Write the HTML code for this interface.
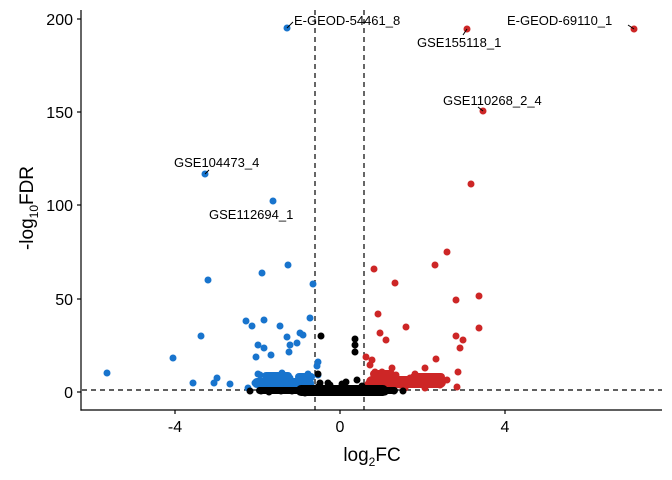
<!DOCTYPE html>
<html><head><meta charset="utf-8"><style>body{margin:0;background:#fff}svg{display:block}</style></head><body>
<svg width="672" height="480" xmlns="http://www.w3.org/2000/svg" font-family="Liberation Sans, sans-serif">
<rect width="672" height="480" fill="#fff"/>
<g stroke="#000" stroke-width="1.2" stroke-dasharray="5,4" fill="none">
<line x1="315" y1="10" x2="315" y2="410"/><line x1="364" y1="10" x2="364" y2="410"/>
<line x1="82" y1="390" x2="662" y2="390"/>
</g>
<g fill="#1874cd">
<rect x="252" y="378" width="62" height="10" rx="5"/>
<rect x="262" y="372" width="30" height="8" rx="4"/>
<rect x="295" y="373" width="20" height="8" rx="4"/>
<circle cx="287" cy="28" r="3.5"/><circle cx="205" cy="174" r="3.5"/><circle cx="273" cy="201" r="3.5"/><circle cx="288" cy="265" r="3.5"/><circle cx="262" cy="273" r="3.5"/><circle cx="313" cy="284" r="3.5"/><circle cx="246" cy="321" r="3.5"/><circle cx="252" cy="326" r="3.5"/><circle cx="280" cy="326" r="3.5"/><circle cx="264" cy="320" r="3.5"/><circle cx="300" cy="333" r="3.5"/><circle cx="303" cy="335" r="3.5"/><circle cx="287" cy="337" r="3.5"/><circle cx="297" cy="343" r="3.5"/><circle cx="290" cy="345" r="3.5"/><circle cx="258" cy="345" r="3.5"/><circle cx="264" cy="348" r="3.5"/><circle cx="271" cy="355" r="3.5"/><circle cx="256" cy="357" r="3.5"/><circle cx="289" cy="352" r="3.5"/><circle cx="310" cy="318" r="3.5"/><circle cx="318" cy="362" r="3.5"/><circle cx="317" cy="366" r="3.5"/><circle cx="318" cy="375" r="3.5"/><circle cx="260" cy="375" r="3.5"/><circle cx="263" cy="385" r="3.5"/><circle cx="275" cy="378" r="3.5"/><circle cx="290" cy="378" r="3.5"/><circle cx="300" cy="380" r="3.5"/><circle cx="280" cy="385" r="3.5"/><circle cx="248" cy="388" r="3.5"/><circle cx="255" cy="383" r="3.5"/><circle cx="268" cy="382" r="3.5"/><circle cx="310" cy="382" r="3.5"/><circle cx="305" cy="385" r="3.5"/><circle cx="230" cy="384" r="3.5"/><circle cx="312" cy="387" r="3.5"/><circle cx="107" cy="373" r="3.5"/><circle cx="173" cy="358" r="3.5"/><circle cx="201" cy="336" r="3.5"/><circle cx="208" cy="280" r="3.5"/><circle cx="217" cy="378" r="3.5"/><circle cx="214" cy="383" r="3.5"/><circle cx="193" cy="383" r="3.5"/><circle cx="285" cy="382" r="3.5"/><circle cx="295" cy="385" r="3.5"/><circle cx="270" cy="388" r="3.5"/><circle cx="300" cy="389" r="3.5"/><circle cx="258" cy="374" r="3.5"/><circle cx="282" cy="373" r="3.5"/><circle cx="308" cy="374" r="3.5"/>
</g>
<g fill="#cd2626">
<rect x="366" y="376" width="80" height="12" rx="6"/>
<rect x="370" y="370" width="25" height="8" rx="4"/>
<rect x="410" y="373" width="35" height="8" rx="4"/>
<circle cx="467" cy="29" r="3.5"/><circle cx="634" cy="29" r="3.5"/><circle cx="483" cy="111" r="3.5"/><circle cx="471" cy="184" r="3.5"/><circle cx="447" cy="252" r="3.5"/><circle cx="435" cy="265" r="3.5"/><circle cx="374" cy="269" r="3.5"/><circle cx="395" cy="283" r="3.5"/><circle cx="456" cy="300" r="3.5"/><circle cx="479" cy="296" r="3.5"/><circle cx="378" cy="314" r="3.5"/><circle cx="380" cy="333" r="3.5"/><circle cx="386" cy="340" r="3.5"/><circle cx="406" cy="327" r="3.5"/><circle cx="456" cy="336" r="3.5"/><circle cx="479" cy="328" r="3.5"/><circle cx="463" cy="340" r="3.5"/><circle cx="460" cy="348" r="3.5"/><circle cx="366" cy="357" r="3.5"/><circle cx="436" cy="359" r="3.5"/><circle cx="458" cy="372" r="3.5"/><circle cx="447" cy="380" r="3.5"/><circle cx="425" cy="368" r="3.5"/><circle cx="457" cy="387" r="3.5"/><circle cx="370" cy="365" r="3.5"/><circle cx="375" cy="372" r="3.5"/><circle cx="382" cy="372" r="3.5"/><circle cx="390" cy="380" r="3.5"/><circle cx="410" cy="378" r="3.5"/><circle cx="400" cy="385" r="3.5"/><circle cx="420" cy="384" r="3.5"/><circle cx="430" cy="382" r="3.5"/><circle cx="368" cy="384" r="3.5"/><circle cx="378" cy="387" r="3.5"/><circle cx="440" cy="385" r="3.5"/><circle cx="415" cy="374" r="3.5"/><circle cx="396" cy="375" r="3.5"/><circle cx="405" cy="388" r="3.5"/><circle cx="388" cy="386" r="3.5"/><circle cx="425" cy="388" r="3.5"/><circle cx="392" cy="368" r="3.5"/><circle cx="372" cy="360" r="3.5"/>
</g>
<g fill="#000">
<rect x="296" y="385" width="92" height="11" rx="5"/>
<rect x="256" y="387" width="50" height="7" rx="3.5"/>
<rect x="380" y="387" width="18" height="7" rx="3.5"/>
<circle cx="321" cy="336" r="3.5"/><circle cx="355" cy="339" r="3.5"/><circle cx="355" cy="345" r="3.5"/><circle cx="355" cy="352" r="3.5"/><circle cx="318" cy="374" r="3.5"/><circle cx="357" cy="380" r="3.5"/><circle cx="261" cy="391" r="3.5"/><circle cx="269" cy="392" r="3.5"/><circle cx="281" cy="391" r="3.5"/><circle cx="292" cy="391" r="3.5"/><circle cx="300" cy="392" r="3.5"/><circle cx="310" cy="390" r="3.5"/><circle cx="318" cy="387" r="3.5"/><circle cx="322" cy="392" r="3.5"/><circle cx="328" cy="383" r="3.5"/><circle cx="334" cy="392" r="3.5"/><circle cx="340" cy="390" r="3.5"/><circle cx="346" cy="382" r="3.5"/><circle cx="350" cy="392" r="3.5"/><circle cx="356" cy="389" r="3.5"/><circle cx="362" cy="391" r="3.5"/><circle cx="368" cy="392" r="3.5"/><circle cx="376" cy="391" r="3.5"/><circle cx="385" cy="392" r="3.5"/><circle cx="394" cy="391" r="3.5"/><circle cx="320" cy="383" r="3.5"/><circle cx="330" cy="385" r="3.5"/><circle cx="342" cy="384" r="3.5"/><circle cx="305" cy="393" r="3.5"/><circle cx="362" cy="386" r="3.5"/><circle cx="403" cy="391" r="3.5"/><circle cx="250" cy="391" r="3.5"/></g>
<g font-size="13" fill="#000">
<text x="294" y="25">E-GEOD-54461_8</text>
<text x="507" y="25">E-GEOD-69110_1</text>
<text x="417" y="47">GSE155118_1</text>
<text x="443" y="105">GSE110268_2_4</text>
<text x="174" y="167">GSE104473_4</text>
<text x="209" y="219">GSE112694_1</text>
</g>
<g stroke="#000" stroke-width="1">
<line x1="205" y1="174" x2="209" y2="170"/><line x1="287" y1="28" x2="293" y2="22"/><line x1="634" y1="29" x2="628" y2="25"/><line x1="467" y1="29" x2="463" y2="35"/><line x1="483" y1="111" x2="478" y2="107"/>
</g>
<g stroke="#000" stroke-width="1.2">
<line x1="81" y1="10" x2="81" y2="410.6"/><line x1="80.4" y1="410" x2="662" y2="410"/>
<line x1="77" y1="19" x2="81" y2="19"/><line x1="77" y1="112" x2="81" y2="112"/><line x1="77" y1="205" x2="81" y2="205"/><line x1="77" y1="299" x2="81" y2="299"/><line x1="77" y1="392" x2="81" y2="392"/>
<line x1="175" y1="410" x2="175" y2="414"/><line x1="340" y1="410" x2="340" y2="414"/><line x1="505" y1="410" x2="505" y2="414"/>
</g>
<g font-size="16" fill="#000">
<text x="73" y="25" text-anchor="end">200</text><text x="73" y="118" text-anchor="end">150</text><text x="73" y="211" text-anchor="end">100</text><text x="73" y="305" text-anchor="end">50</text><text x="73" y="398" text-anchor="end">0</text>
<text x="175" y="432" text-anchor="middle">-4</text><text x="340" y="432" text-anchor="middle">0</text><text x="505" y="432" text-anchor="middle">4</text>
</g>
<text x="372" y="461" font-size="19" text-anchor="middle">log<tspan font-size="12" dy="5">2</tspan><tspan dy="-5">FC</tspan></text>
<text transform="translate(33,208) rotate(-90)" font-size="19" text-anchor="middle">-log<tspan font-size="12" dy="5">10</tspan><tspan dy="-5">FDR</tspan></text>
</svg>
</body></html>
